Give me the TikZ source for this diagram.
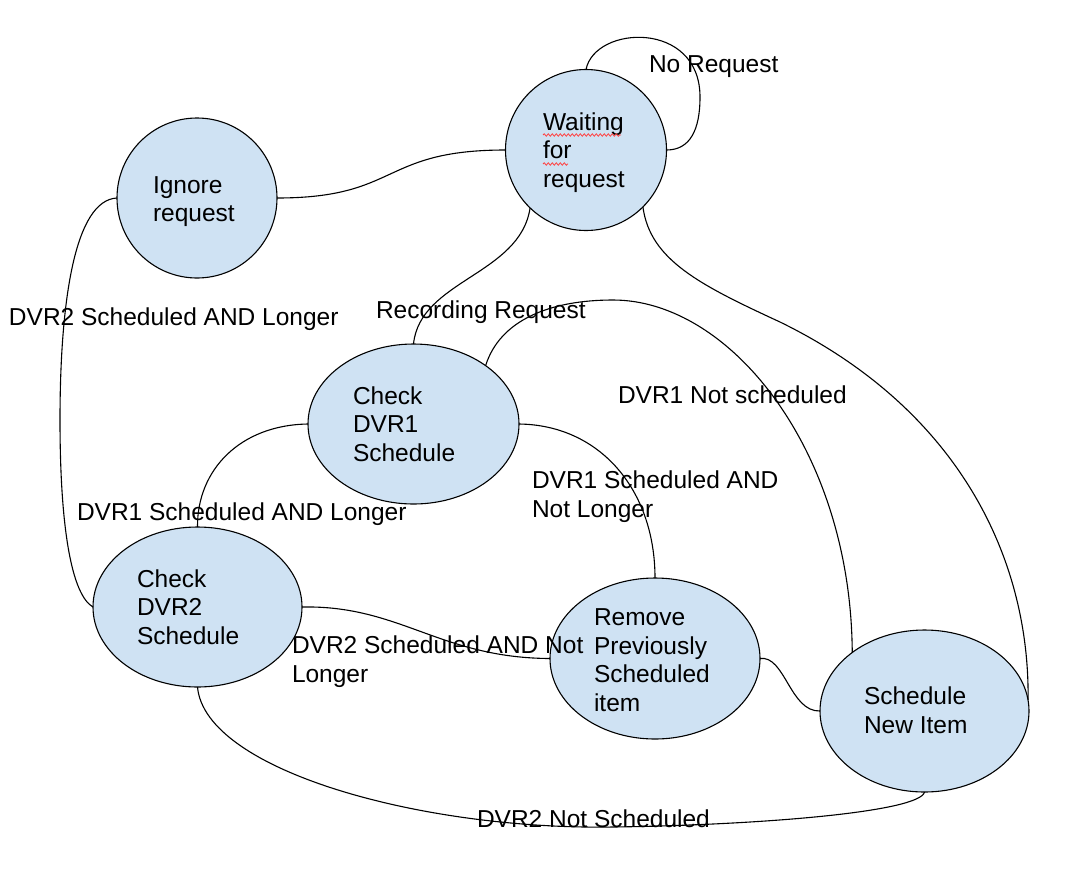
\documentclass[tikz,border=0pt]{standalone}
\usepackage{fontspec}
\setmainfont{Liberation Sans}
\usetikzlibrary{shapes.geometric,decorations.pathmorphing}
\definecolor{stfill}{HTML}{CFE2F3}
\begin{document}
\begin{tikzpicture}[x=1pt,y=-1pt,
  every node/.style={font=\fontsize{24.5}{28.5}\selectfont},
  st/.style={ellipse, draw=black, fill=stfill, line width=1.1pt, inner sep=0pt, outer sep=0pt},
  txt/.style={anchor=base west, align=left, inner sep=0pt, outer sep=0pt},
  conn/.style={draw=black, line width=1.1pt},
  spell/.style={draw=red!75, line width=0.8pt, decorate, decoration={snake, amplitude=1.2pt, segment length=4pt}}]
\useasboundingbox[fill=white] (0,0) rectangle (1081,868);

% states
\node[st, minimum width=161pt, minimum height=161pt] (wait) at (586,150) {};
\node[st, minimum width=160pt, minimum height=160pt] (ign) at (197,198) {};
\node[st, minimum width=211pt, minimum height=160pt] (c1) at (413.5,424) {};
\node[st, minimum width=209pt, minimum height=160pt] (c2) at (197.5,607) {};
\node[st, minimum width=210pt, minimum height=161pt] (rm) at (655,658.5) {};
\node[st, minimum width=209pt, minimum height=162pt] (sn) at (924.5,711) {};

% state texts (anchor = baseline of last line)
\node[txt] (waitT) at (543,187) {Waiting\\for\\request};
\node[txt] (ignT) at (153,221.5) {Ignore\\request};
\node[txt] (c1T) at (353,461) {Check\\DVR1\\Schedule};
\node[txt] (c2T) at (137,644) {Check\\DVR2\\Schedule};
\node[txt] (rmT) at (594,711) {Remove\\Previously\\Scheduled\\item};
\node[txt] (snT) at (864,733) {Schedule\\New Item};

% spell-check underlines
\coordinate (sq1a) at (543,135); \coordinate (sq1b) at (621,135);
\coordinate (sq2a) at (543,164); \coordinate (sq2b) at (568,164);
\draw[spell] (sq1a) -- (sq1b);
\draw[spell] (sq2a) -- (sq2b);

% connectors
\draw[conn] (wait.north) .. controls (595,25) and (700,20) .. (700,97) .. controls (700,130) and (690,150) .. (wait.east);
\draw[conn] (ign.east) .. controls (400,198) and (380,150) .. (wait.west);
\draw[conn] (wait.226) .. controls (520,275) and (420,280) .. (c1.north);
\draw[conn] (wait.315) .. controls (650,260) and (700,285) .. (780,322) .. controls (960,410) and (1030,560) .. (sn.6);
\draw[conn] (c1.39) .. controls (500,320) and (550,300) .. (613,300) .. controls (730,300) and (851,450) .. (sn.141);
\draw[conn] (c1.west) .. controls (240,425) and (197,470) .. (c2.north);
\draw[conn] (c1.east) .. controls (600,425) and (655,490) .. (rm.north);
\draw[conn] (ign.west) .. controls (75,200) and (60,300) .. (60,420) .. controls (60,530) and (72,595) .. (c2.west);
\draw[conn] (c2.east) .. controls (400,605) and (440,658) .. (rm.west);
\draw[conn] (rm.east) .. controls (785,655) and (790,712) .. (sn.west);
\draw[conn] (c2.south) .. controls (205,770) and (420,830) .. (613,827) .. controls (760,825) and (920,812) .. (sn.south);

% connector labels
\node[txt] (lNoReq) at (649,72) {No Request};
\node[txt] (lD2L) at (9,325) {DVR2 Scheduled AND Longer};
\node[txt] (lD1L) at (77,520) {DVR1 Scheduled AND Longer};
\node[txt] (lRec) at (376,318) {Recording Request};
\node[txt] (lD1N) at (618,403) {DVR1 Not scheduled};
\node[txt] (lD1NL) at (532,517) {DVR1 Scheduled AND\\Not Longer};
\node[txt] (lD2NL) at (292,682) {DVR2 Scheduled AND Not\\Longer};
\node[txt] (lD2N) at (477,827) {DVR2 Not Scheduled};
\end{tikzpicture}
\end{document}
